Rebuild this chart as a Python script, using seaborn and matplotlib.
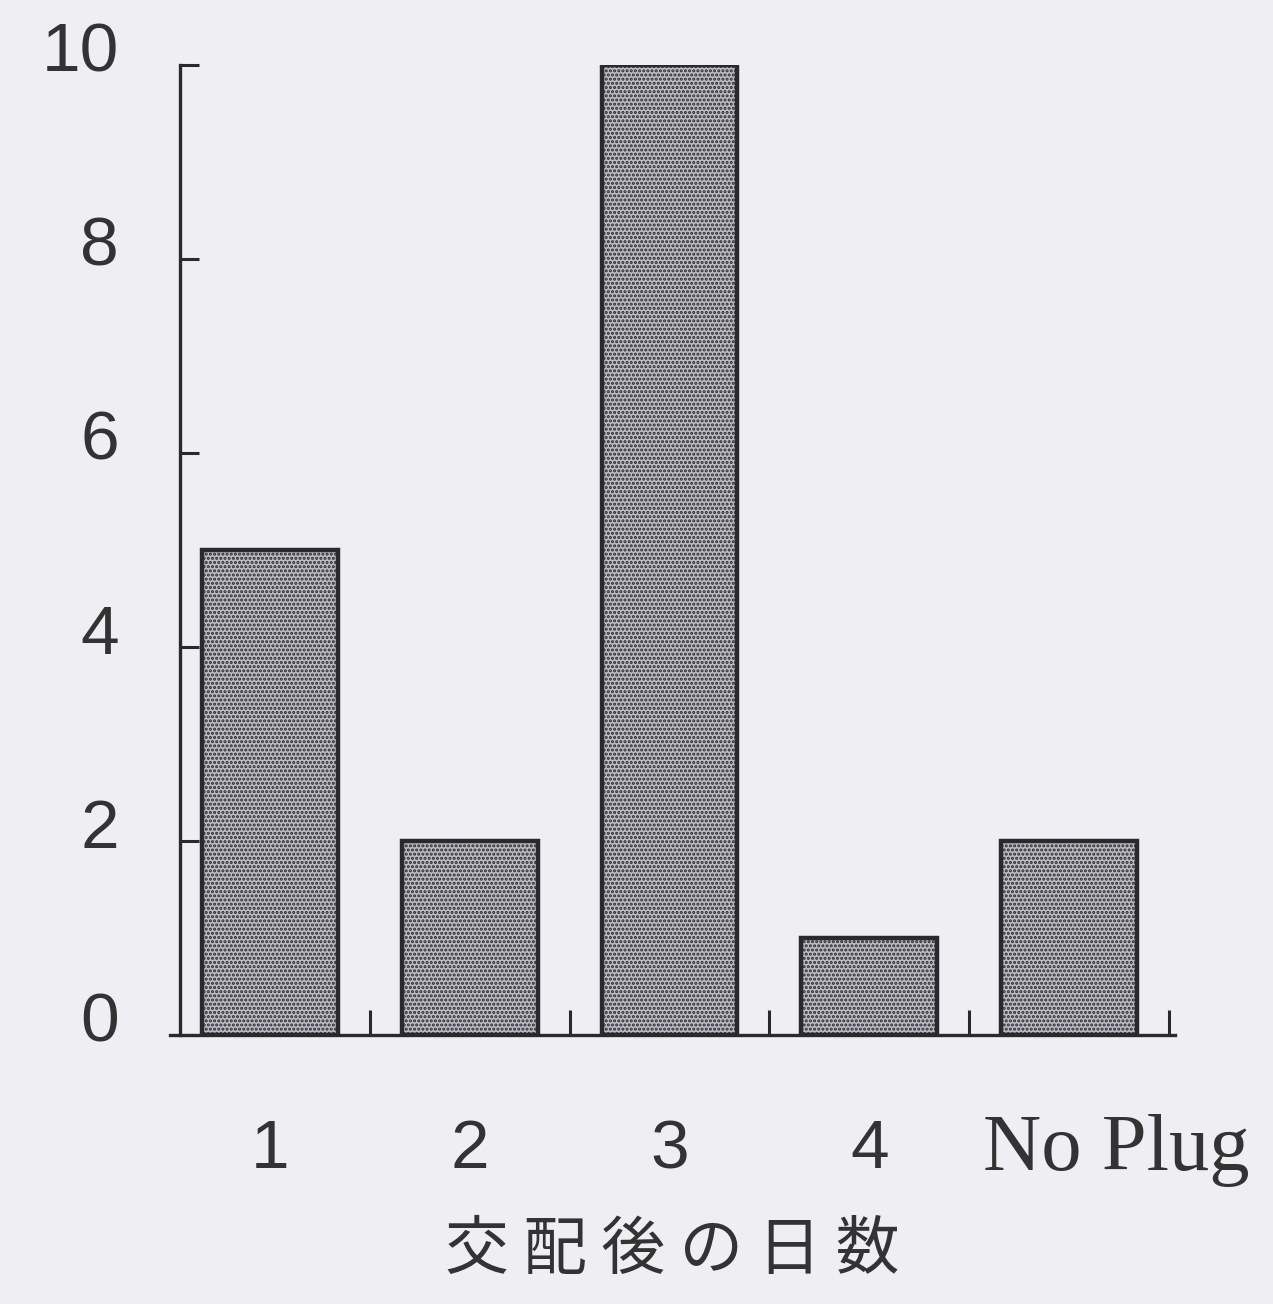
import matplotlib.pyplot as plt
import matplotlib.transforms as mtransforms
import numpy as np
import pandas as pd
import seaborn as sns

# データ
days = ["1", "2", "3", "4", "No Plug"]
counts = [5, 2, 10, 1, 2]
y_ticks = [0, 2, 4, 6, 8, 10]
x_title = "交 配 後 の 日 数"

sns.set_theme(style="white")
plt.rcParams["font.family"] = ["Liberation Sans", "DejaVu Sans"]
plt.rcParams["hatch.linewidth"] = 1.5

bg = "#efeef3"
ink = "#2a2a2e"

fig = plt.figure(figsize=(12.73, 13.04), dpi=100, facecolor=bg)
ax = fig.add_axes([170 / 1273, 269 / 1304, 1005 / 1273, 970 / 1304])
ax.set_facecolor(bg)

df = pd.DataFrame({"day": days, "count": counts})
sns.barplot(data=df, x="day", y="count", ax=ax, width=0.68,
            color="#bdbbc3", edgecolor=ink, linewidth=3.2, saturation=1)
for p in ax.patches:
    p.set_hatch("....")

ax.set_xlim(-0.5, 4.53)
ax.set_ylim(0, 10)
ax.spines["left"].set_position(("data", -0.45))
for s in ["top", "right"]:
    ax.spines[s].set_visible(False)
for s in ["left", "bottom"]:
    ax.spines[s].set_linewidth(2.4)
    ax.spines[s].set_color(ink)

# y 軸
ax.set_yticks(y_ticks)
ax.set_yticklabels([str(v) for v in y_ticks], fontsize=50, color="#333333")
ax.tick_params(axis="y", left=True, direction="in", length=14, width=2.2,
               color=ink, pad=44)
off = mtransforms.ScaledTranslation(0, 18 / 100, fig.dpi_scale_trans)
for lab in ax.get_yticklabels():
    lab.set_transform(lab.get_transform() + off)

# x 軸
ax.set_xticks(range(len(days)))
ax.set_xticklabels(days, fontsize=50, color="#333333")
ax.set_xticks(np.arange(0.5, len(days), 1.0), minor=True)
ax.tick_params(axis="x", which="major", bottom=True, length=0, pad=60)
ax.tick_params(axis="x", which="minor", bottom=True, direction="in", length=18,
               width=2.2, color=ink)
lab = ax.get_xticklabels()[-1]
lab.set_fontfamily(["Liberation Serif", "DejaVu Serif"])
lab.set_fontsize(58)
shift = mtransforms.ScaledTranslation(47 / 100, 4 / 100, fig.dpi_scale_trans)
lab.set_transform(lab.get_transform() + shift)

ax.set_ylabel("")
ax.set_xlabel(x_title, fontsize=46, color="#333333", labelpad=22,
              family=["Noto Sans CJK JP", "DejaVu Sans"])

fig.savefig("out.png", dpi=100, facecolor=bg)
